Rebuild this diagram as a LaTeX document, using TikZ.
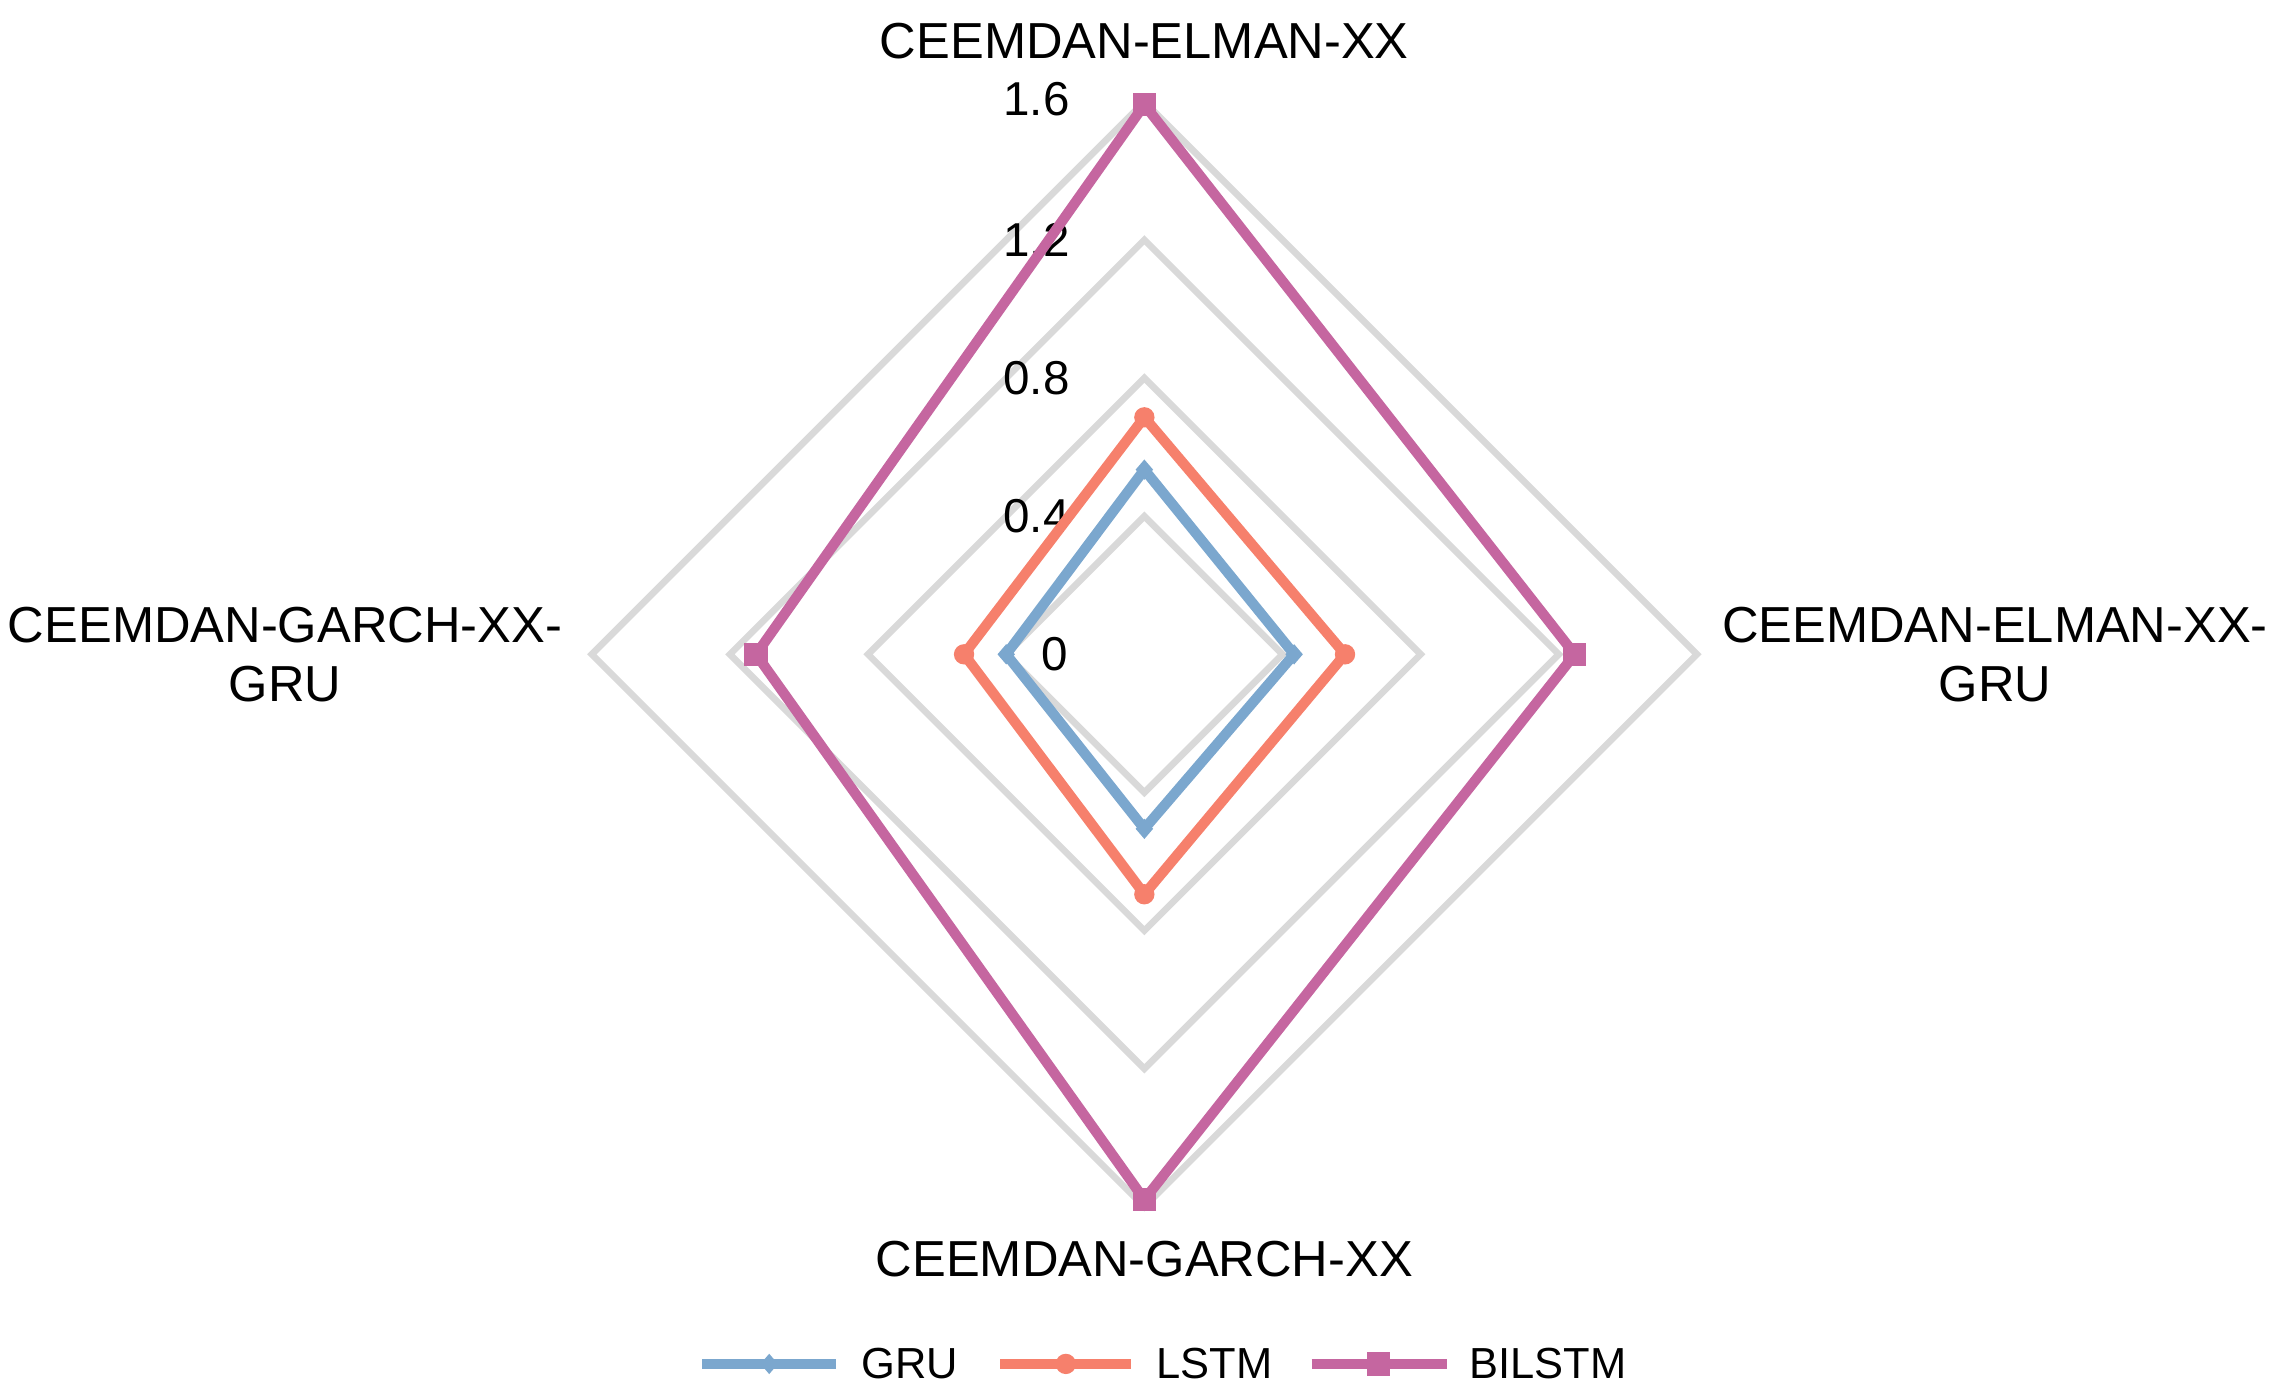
\documentclass[tikz,border=0pt]{standalone}
\usepackage{fontspec}
\setmainfont{Liberation Sans}
\definecolor{gru}{HTML}{7BA7CE}
\definecolor{lstm}{HTML}{F6806C}
\definecolor{bil}{HTML}{C566A0}
\definecolor{grid}{HTML}{D9D9D9}
\begin{document}
\begin{tikzpicture}[x=0.01cm,y=-0.01cm,
  gridl/.style={grid,line width=1.3pt},
  ser/.style={line width=2pt,line join=miter},
  lab/.style={font=\fontsize{9.9}{11.5}\selectfont,align=center},
  tick/.style={font=\fontsize{9.3}{10}\selectfont},
  leg/.style={font=\fontsize{8.5}{9}\selectfont}]
\useasboundingbox (0,0) rectangle (1568,955);
\foreach \r in {95,190,285,380}{
  \draw[gridl] (787,450-\r) -- (787+\r,450) -- (787,450+\r) -- (787-\r,450) -- cycle;
}
\node[tick,anchor=east] (t0) at (747,450) {0};
\node[tick,anchor=east] (t1) at (748,355) {0.4};
\node[tick,anchor=east] (t2) at (748,260) {0.8};
\node[tick,anchor=east] (t3) at (748,165) {1.2};
\node[tick,anchor=east] (t4) at (748,68) {1.6};
% GRU
\draw[ser,gru] (787,323) -- (890,450) -- (787,570) -- (692,450) -- cycle;
\foreach \p in {(787,323),(890,450),(787,570),(692,450)}
  \fill[gru] \p +(0,-7) -- +(6,0) -- +(0,7) -- +(-6,0) -- cycle;
% LSTM
\draw[ser,lstm] (787,287) -- (925,450) -- (787,615) -- (663,450) -- cycle;
\foreach \p in {(787,287),(925,450),(787,615),(663,450)}
  \fill[lstm] \p circle (7);
% BILSTM
\draw[ser,bil] (787,72) -- (1083,450) -- (787,825) -- (520,450) -- cycle;
\foreach \p in {(787,72),(1083,450),(787,825),(520,450)}
  \fill[bil] \p +(-8,-8) rectangle +(8,8);
\node[lab] (top) at (787,28) {CEEMDAN-ELMAN-XX};
\node[lab] (right) at (1372,450) {CEEMDAN-ELMAN-XX-\\GRU};
\node[lab] (bottom) at (787,866) {CEEMDAN-GARCH-XX};
\node[lab] (left) at (196,450) {CEEMDAN-GARCH-XX-\\GRU};
% legend
\draw[ser,gru] (483,938) -- (575,938);
\fill[gru] (529,938) +(0,-7) -- +(6,0) -- +(0,7) -- +(-6,0) -- cycle;
\node[leg,anchor=west] (lg1) at (580,938) {GRU};
\draw[ser,lstm] (688,938) -- (778,938);
\fill[lstm] (733,938) circle (7);
\node[leg,anchor=west] (lg2) at (783,938) {LSTM};
\draw[ser,bil] (902,938) -- (995,938);
\fill[bil] (948,938) +(-8,-8) rectangle +(8,8);
\node[leg,anchor=west] (lg3) at (998,938) {BILSTM};
\end{tikzpicture}
\end{document}
